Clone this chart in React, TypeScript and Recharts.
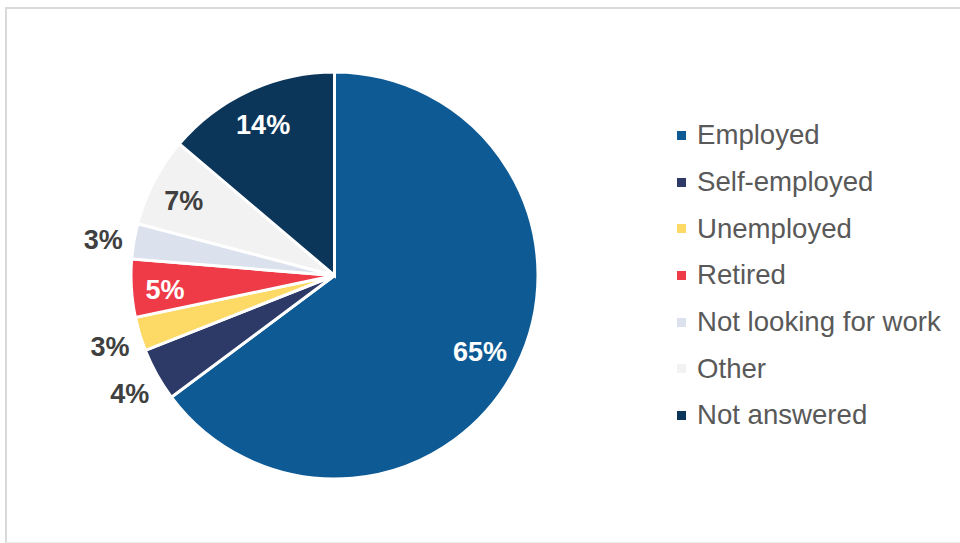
import React from "react";
import { PieChart, Pie, Cell } from "recharts";

const categories = [
  "Employed",
  "Self-employed",
  "Unemployed",
  "Retired",
  "Not looking for work",
  "Other",
  "Not answered",
];
const shares = [64.8, 4.2, 2.7, 4.6, 2.8, 7.1, 13.8];
const colors = ["#0e5a94", "#2d3a68", "#fdd966", "#ef3a47", "#dbe2ee", "#f2f2f2", "#0b3559"];
const labelColors = ["#ffffff", "#404040", "#404040", "#ffffff", "#404040", "#404040", "#ffffff"];

const data = categories.map((name, i) => ({ name, value: shares[i] }));

const RAD = Math.PI / 180;

const renderLabel = (props: any) => {
  const { cx, cy, midAngle, outerRadius, percent, index } = props;
  const outside = percent < 0.045;
  const r = outside ? outerRadius + 31 : outerRadius * (percent > 0.3 ? 0.8 : 0.835);
  const x = cx + r * Math.cos(-midAngle * RAD);
  const y = cy + r * Math.sin(-midAngle * RAD) + 4;
  return (
    <text
      x={x}
      y={y}
      fill={outside ? "#404040" : labelColors[index]}
      textAnchor="middle"
      dominantBaseline="central"
      fontFamily="'Liberation Sans', Arial, sans-serif"
      fontWeight={700}
      fontSize={27}
    >
      {`${Math.round(percent * 100)}%`}
    </text>
  );
};

function LegendBox() {
  return (
    <div style={{ position: "absolute", left: 676, top: 112 }}>
      {categories.map((name, i) => (
        <div
          key={name}
          style={{
            height: 46.7,
            display: "flex",
            alignItems: "center",
            fontFamily: "'Liberation Sans', Arial, sans-serif",
            fontSize: 27.6,
            color: "#595959",
            whiteSpace: "nowrap",
          }}
        >
          <span
            style={{
              display: "inline-block",
              width: 9,
              height: 9,
              background: colors[i],
              marginRight: 11,
              marginLeft: 1,
            }}
          />
          <span>{name}</span>
        </div>
      ))}
    </div>
  );
}

export default function App() {
  return (
    <div
      style={{
        position: "absolute",
        left: 0,
        top: 0,
        width: 960,
        height: 543,
        overflow: "hidden",
        background: "#ffffff",
      }}
    >
      <div
        style={{
          position: "absolute",
          left: 5,
          top: 7,
          width: 1000,
          height: 533,
          borderTop: "2px solid #d9d9d9",
          borderLeft: "2px solid #d9d9d9",
          borderBottom: "1px solid #ededed",
        }}
      />
      <div style={{ position: "absolute", left: 0, top: 0 }}>
        <PieChart width={960} height={543} margin={{ top: 0, right: 0, bottom: 0, left: 0 }}>
          <Pie
            data={data}
            dataKey="value"
            nameKey="name"
            cx={334.5}
            cy={275.5}
            outerRadius={203.5}
            startAngle={90}
            endAngle={-270}
            stroke="#ffffff"
            strokeWidth={3}
            label={renderLabel}
            labelLine={false}
            isAnimationActive={false}
          >
            {data.map((d, i) => (
              <Cell key={d.name} fill={colors[i]} />
            ))}
          </Pie>
        </PieChart>
      </div>
      <LegendBox />
    </div>
  );
}
